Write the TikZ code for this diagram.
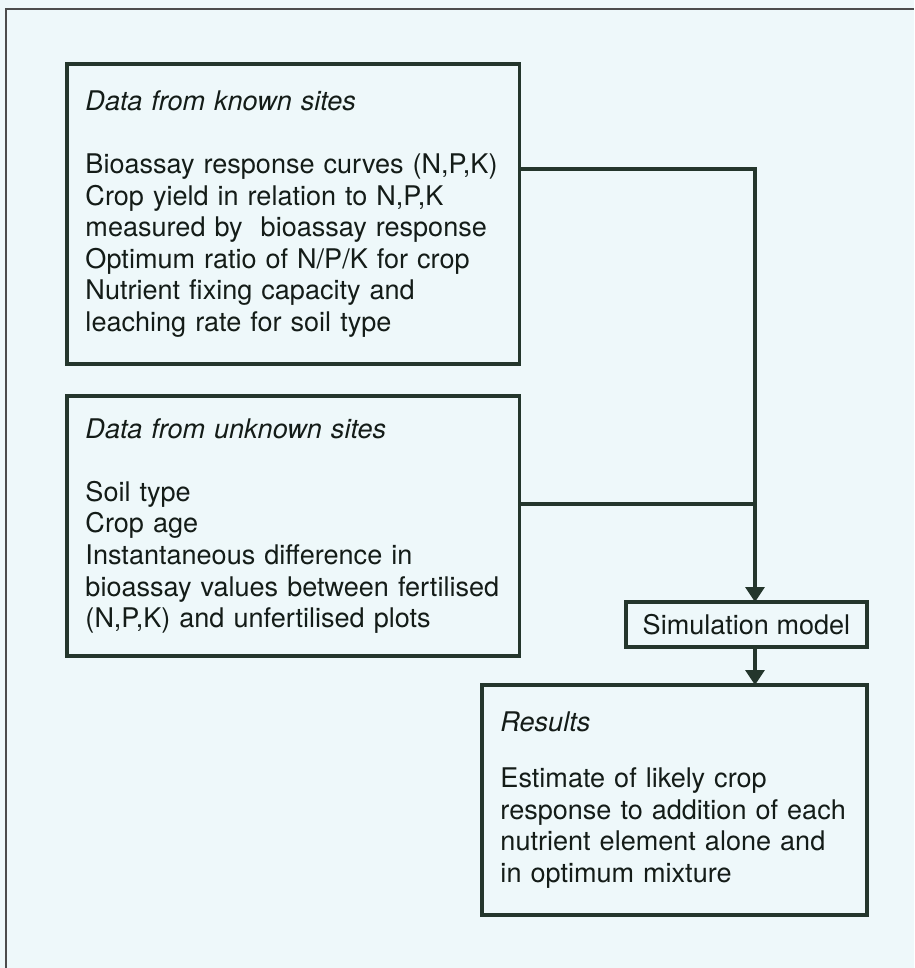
\documentclass[tikz,border=0pt]{standalone}
\usepackage{fontspec}
\setmainfont{TeX Gyre Heros}
\usetikzlibrary{arrows.meta}
\definecolor{inkline}{RGB}{36,54,44}
\definecolor{inktext}{RGB}{20,28,24}
\definecolor{paper}{RGB}{238,248,250}
\begin{document}
\begin{tikzpicture}[x=0.02cm,y=-0.02cm,inner sep=0pt,outer sep=0pt,line width=1.8pt,
>={Triangle[length=0.3cm,width=0.38cm]},
datablock/.style={draw=inkline,rectangle,anchor=north west,align=left,text=inktext,inner xsep=0.37cm,font=\fontsize{15.4}{18}\selectfont},
simblock/.style={draw=inkline,rectangle,anchor=north west,text=inktext,minimum width=4.82cm,minimum height=0.9cm,font=\fontsize{15.4}{18}\selectfont}]
\useasboundingbox (0,0) rectangle (914,968);
\fill[paper] (0,0) rectangle (914,968);
\draw[line width=1.1pt,black!70] (6,968) -- (6,9) -- (914,9);
\draw (67,64) node[datablock,text width=8.32cm,minimum height=6cm] (known) {\textit{Data from known sites}\\[18pt]
Bioassay response curves (N,P,K)\\ Crop yield in relation to N,P,K\\ measured by\ \ bioassay response\\
Optimum ratio of N/P/K for crop\\ Nutrient fixing capacity and\\ leaching rate for soil type};
\draw (67,396) node[datablock,text width=8.32cm,minimum height=5.2cm] (unknown) {\textit{Data from unknown sites}\\[18pt]
Soil type\\ Crop age\\ Instantaneous difference in\\ bioassay values between fertilised\\ (N,P,K) and unfertilised plots};
\draw (626,602) node[simblock] (sim) {Simulation model};
\draw (482,685) node[datablock,text width=6.96cm,minimum height=4.6cm] (results) {\textit{Results}\\[14pt]
Estimate of likely crop\\ response to addition of each\\ nutrient element alone and\\ in optimum mixture};
\coordinate (vtop) at (755,169);
\coordinate (vjoin) at (755,504);
\draw[->,inkline] (known.east |- vtop) -- (vtop) -- (sim.north -| vtop);
\draw[inkline] (unknown.east |- vjoin) -- (vjoin);
\draw[->,inkline] (sim.south -| vtop) -- (results.north -| vtop);
\end{tikzpicture}
\end{document}
